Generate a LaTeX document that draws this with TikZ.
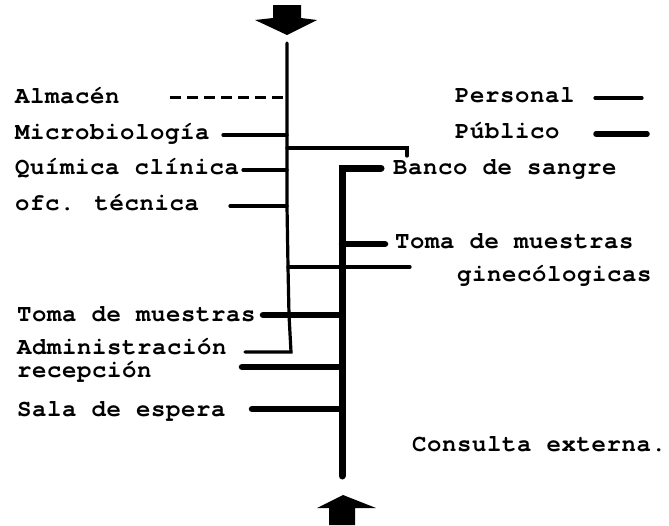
\documentclass[tikz,border=0pt]{standalone}
\usepackage{fontspec}
\newfontfamily\tw{texgyrecursor-bold.otf}[LetterSpace=2.5]
\begin{document}
\begin{tikzpicture}[x=1pt,y=-1pt,
  lbl/.style={anchor=base west,inner sep=0pt,font=\tw\fontsize{24}{28}\selectfont},
  pers/.style={line width=3.2pt,line cap=round},
  pub/.style={line width=6.5pt,line cap=round},
  pubtrunk/.style={line width=7pt,line cap=round,line join=miter},
  dash line/.style={line width=3pt,dash pattern=on 11pt off 6pt},
  arrowfill/.style={fill=black,draw=none}]
\useasboundingbox (0,0) rectangle (669,525);
% labels (baseline = cap centre + 6.5)
\node[lbl] (alm) at (15,103.5) {Almacén};
\node[lbl] (mic) at (15,139.5) {Microbiología};
\node[lbl] (qui) at (15,174.5) {Química clínica};
\node[lbl] (ofc) at (15,210.5) {ofc. técnica};
\node[lbl] (tom) at (17,321.5) {Toma de muestras};
\node[lbl] (adm) at (17,354) {Administración};
\node[lbl] (rec) at (17,377.5) {recepción};
\node[lbl] (sal) at (17,416.5) {Sala de espera};
\node[lbl] (per) at (455,102.5) {Personal};
\node[lbl] (pub) at (455,138.5) {Público};
\node[lbl] (ban) at (393,174.5) {Banco de sangre};
\node[lbl] (tog) at (395,248.5) {Toma de muestras};
\node[lbl] (gin) at (457,281.5) {ginecólogicas};
\node[lbl] (con) at (412,451.5) {Consulta externa.};
% thin (personal) trunk coordinates
\coordinate (t0) at (287,43);
\coordinate (tA) at (287,97);
\coordinate (tM) at (287,135);
\coordinate (tR1) at (287,148);
\coordinate (tQ) at (287,170);
\coordinate (tO) at (287,206);
\coordinate (tR2) at (288,267);
\coordinate (tT) at (289,315);
\coordinate (tAd) at (291,352);
% thick (public) trunk coordinates
\coordinate (kB) at (342,168);
\coordinate (kG) at (342,244);
\coordinate (kT) at (342,315);
\coordinate (kRe) at (342,367);
\coordinate (kS) at (342,409);
\coordinate (k1) at (342,476);
% branch ends
\coordinate (eA) at (170,97);
\coordinate (eM) at (223,135);
\coordinate (eR1) at (407,148);
\coordinate (eR1b) at (407,156);
\coordinate (eQ) at (243,170);
\coordinate (eO) at (230,206);
\coordinate (eR2) at (410,267);
\coordinate (eB) at (381,168);
\coordinate (eG) at (385,244);
\coordinate (eT) at (263,315);
\coordinate (eAd) at (245,352);
\coordinate (eRe) at (242,367);
\coordinate (eS) at (252,409);
% thin network
\draw[pers] (t0) -- (tA) -- (tM) -- (tR1) -- (tQ) -- (tO) -- (tR2) -- (tT) -- (tAd) -- (eAd);
\draw[dash line] (eA) -- (tA);
\draw[pers] (eM) -- (tM);
\draw[pers] (tR1) -- (eR1) -- (eR1b);
\draw[pers] (eQ) -- (tQ);
\draw[pers] (eO) -- (tO);
\draw[pers] (tR2) -- (eR2);
% thick network
\draw[pubtrunk] (eB) -- (kB) -- (kG) -- (kT) -- (kRe) -- (kS) -- (k1);
\draw[pub] (kG) -- (eG);
\draw[pub] (eT) -- (kT);
\draw[pub] (eRe) -- (kRe);
\draw[pub] (eS) -- (kS);
% legend
\coordinate (lp1) at (595,98);
\coordinate (lp2) at (642,98);
\coordinate (lq1) at (596,134);
\coordinate (lq2) at (647,134);
\draw[pers] (lp1) -- (lp2);
\draw[pub,line width=5.5pt] (lq1) -- (lq2);
% arrows
\fill[arrowfill] (273,5) -- (301,5) -- (301,18) -- (317,20) -- (287,35) -- (255,20) -- (273,18) -- cycle;
\fill[arrowfill] (343,495) -- (376,508) -- (355,508) -- (355,525) -- (329,525) -- (329,508) -- (317,508) -- cycle;
\end{tikzpicture}
\end{document}
